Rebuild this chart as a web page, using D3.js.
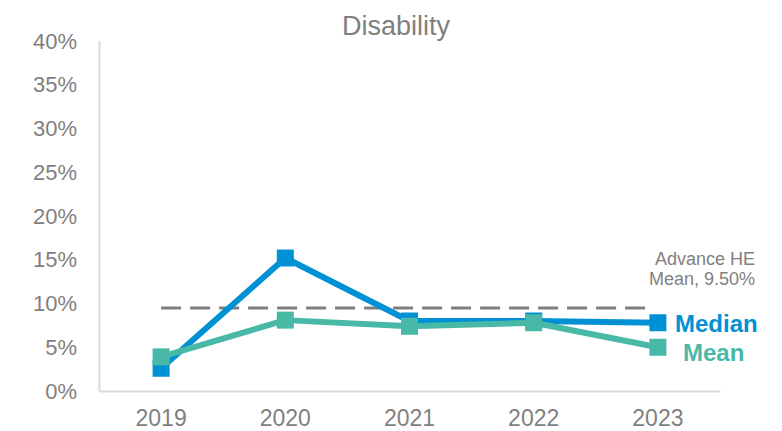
<!DOCTYPE html>
<html>
<head>
<meta charset="utf-8">
<script src="https://cdn.jsdelivr.net/npm/d3@7"></script>
<style>
  html, body { margin: 0; padding: 0; background: #fff; }
  svg { display: block; font-family: "Liberation Sans", Arial, sans-serif; }
</style>
</head>
<body>
<svg id="chart" width="782" height="431"></svg>
<script>
// Disability pay gap: median and mean by year, with sector benchmark
const years = ["2019", "2020", "2021", "2022", "2023"];
const medianValues = [2.6, 15.2, 8.0, 8.0, 7.8];
const meanValues = [3.9, 8.1, 7.4, 7.8, 5.0];
const benchmark = 9.5;
const yTicks = [0, 5, 10, 15, 20, 25, 30, 35, 40];
const title = "Disability";
const benchmarkLabel = ["Advance HE", "Mean, 9.50%"];

const colors = { median: "#0091D5", mean: "#48B9A6", text: "#7F7F7F", axis: "#D9D9D9", bench: "#7F7F7F" };

const svg = d3.select("#chart");
const margin = { left: 99, right: 62, top: 41, bottom: 40 };
const W = 782, H = 431;

const x = d3.scaleBand().domain(years).range([margin.left, W - margin.right]);
const y = d3.scaleLinear().domain([0, 40]).range([H - margin.bottom, margin.top]);
const cx = d => x(d) + x.bandwidth() / 2;

// Title
svg.append("text")
  .attr("x", 396).attr("y", 35)
  .attr("text-anchor", "middle")
  .attr("font-size", 27)
  .attr("fill", colors.text)
  .text(title);

// Y axis
const yAxis = d3.axisLeft(y).tickValues(yTicks).tickSize(0).tickPadding(22).tickFormat(d => d + "%");
const gy = svg.append("g").attr("transform", `translate(${margin.left},0)`).call(yAxis);
gy.select(".domain").attr("stroke", colors.axis).attr("stroke-width", 2);
gy.selectAll("text").attr("font-size", 22).attr("fill", colors.text).attr("font-family", "Liberation Sans, Arial, sans-serif");

// X axis
const xAxis = d3.axisBottom(x).tickSize(0).tickPadding(19);
const gx = svg.append("g").attr("transform", `translate(0,${y(0)})`).call(xAxis);
gx.select(".domain").attr("stroke", colors.axis).attr("stroke-width", 2);
gx.selectAll("text").attr("font-size", 23).attr("fill", colors.text).attr("font-family", "Liberation Sans, Arial, sans-serif");

// Benchmark dashed line
svg.append("line")
  .attr("x1", cx(years[0])).attr("x2", cx(years[years.length - 1]) - 7)
  .attr("y1", y(benchmark)).attr("y2", y(benchmark))
  .attr("stroke", colors.bench)
  .attr("stroke-width", 3)
  .attr("stroke-dasharray", "20 9");

svg.append("text")
  .attr("x", 755).attr("y", 265)
  .attr("text-anchor", "end")
  .attr("font-size", 18)
  .attr("fill", colors.text)
  .selectAll("tspan").data(benchmarkLabel).join("tspan")
  .attr("x", 755).attr("dy", (d, i) => i === 0 ? 0 : 20)
  .text(d => d);

// Series lines and markers
const line = d3.line().x((d, i) => cx(years[i])).y(d => y(d));
const series = [
  { name: "Median", values: medianValues, color: colors.median },
  { name: "Mean", values: meanValues, color: colors.mean }
];
const size = 17;
series.forEach(s => {
  svg.append("path")
    .datum(s.values)
    .attr("d", line)
    .attr("fill", "none")
    .attr("stroke", s.color)
    .attr("stroke-width", 6)
    .attr("stroke-linejoin", "round");
  svg.append("g").selectAll("rect").data(s.values).join("rect")
    .attr("x", (d, i) => cx(years[i]) - size / 2)
    .attr("y", d => y(d) - size / 2)
    .attr("width", size).attr("height", size)
    .attr("fill", s.color);
});

// End labels
svg.append("text")
  .attr("x", 675).attr("y", 332)
  .attr("font-size", 24).attr("font-weight", "bold")
  .attr("fill", colors.median)
  .text(series[0].name);
svg.append("text")
  .attr("x", 683).attr("y", 361)
  .attr("font-size", 24).attr("font-weight", "bold")
  .attr("fill", colors.mean)
  .text(series[1].name);
</script>
</body>
</html>
